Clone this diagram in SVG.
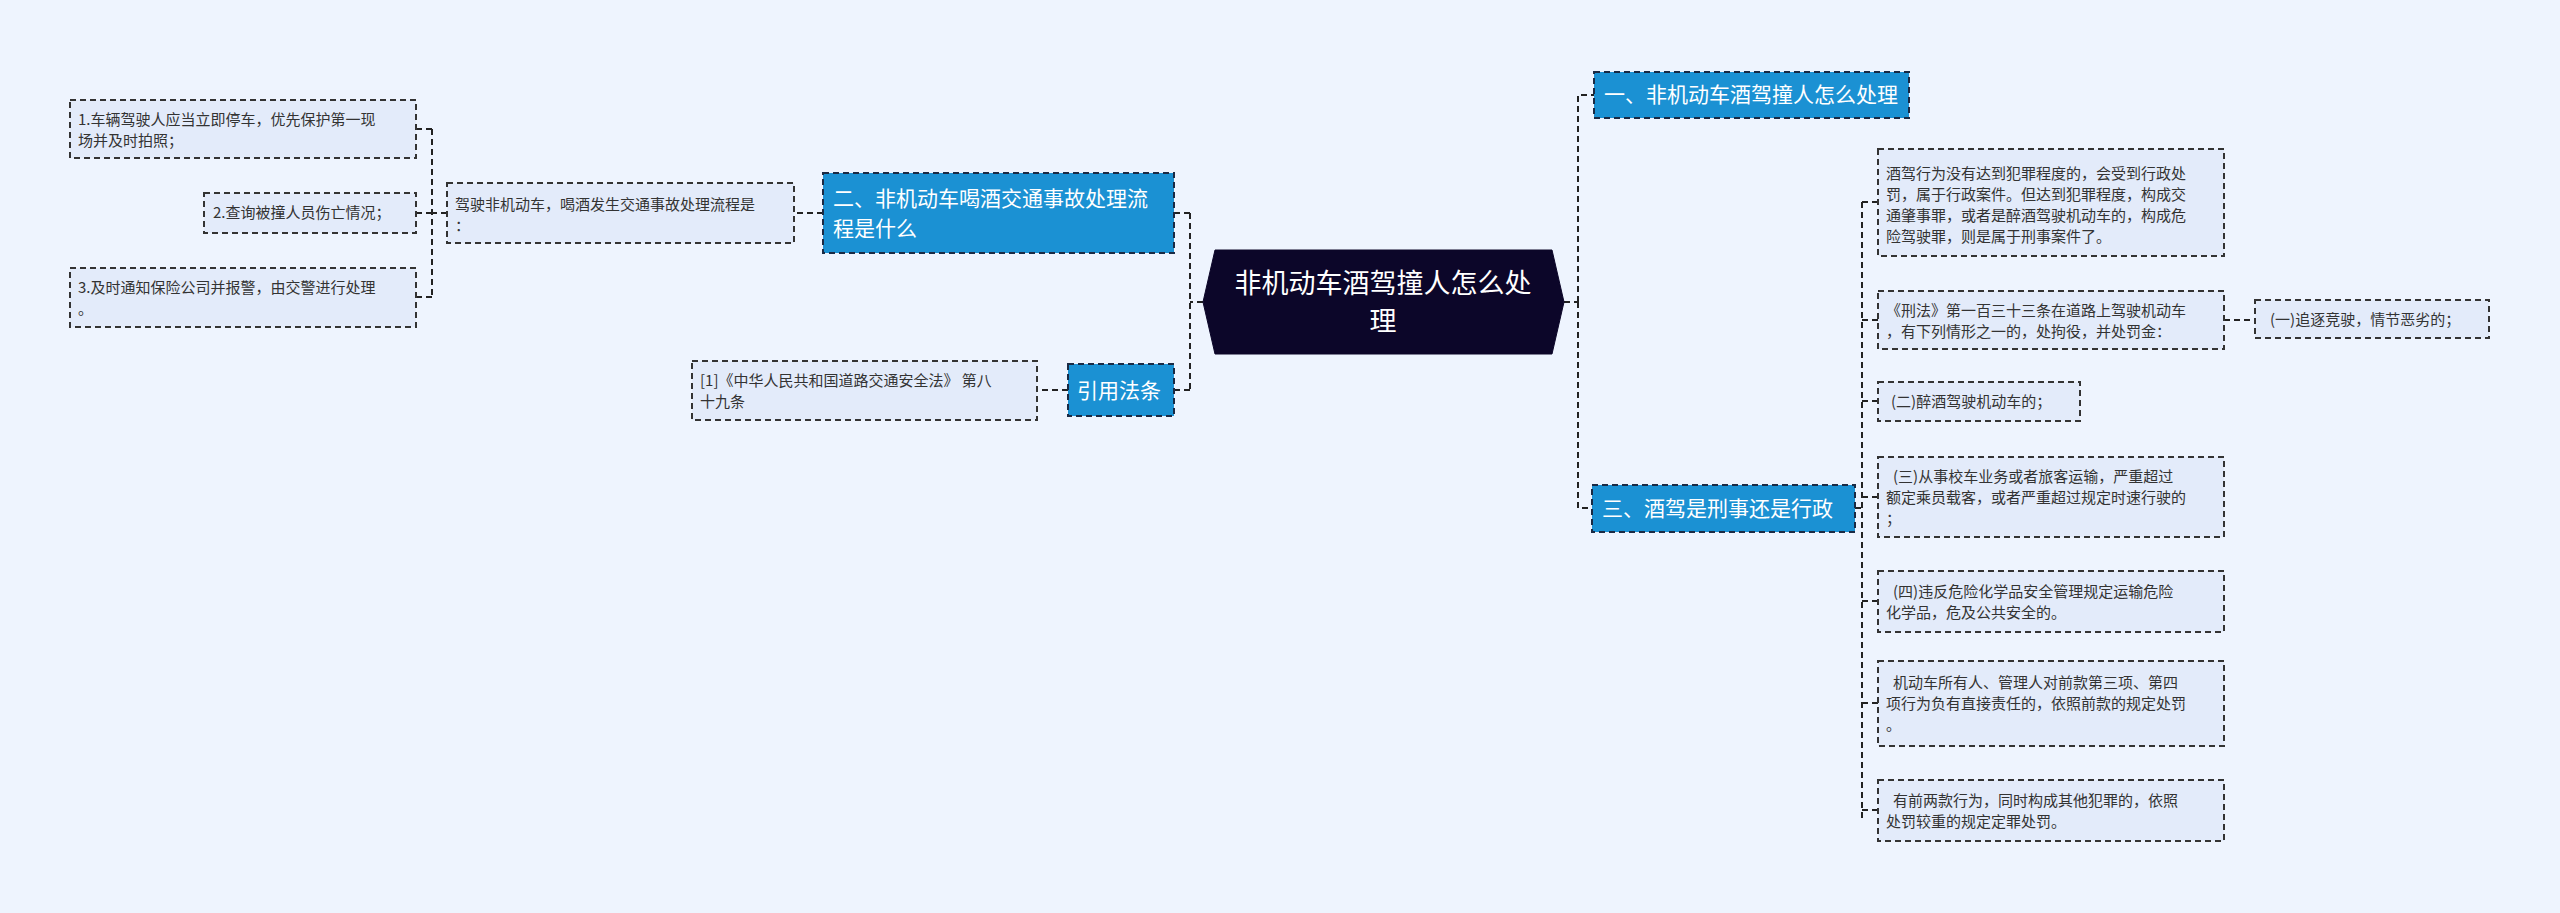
<svg xmlns="http://www.w3.org/2000/svg" width="2560" height="913" viewBox="0 0 2560 913">
<style>
.leaf{fill:#e3ebfa;stroke:#333;stroke-width:2;stroke-dasharray:6,4}
.br{fill:#1b91d3;stroke:#1a2a44;stroke-width:2;stroke-dasharray:6,4}
.lt{font-family:"Noto Sans CJK SC","Liberation Sans",sans-serif;font-size:15px;fill:#333}
.bt{font-family:"Noto Sans CJK SC","Liberation Sans",sans-serif;font-size:21px;fill:#fff}
.rt{font-family:"Noto Sans CJK SC","Liberation Sans",sans-serif;font-size:27px;fill:#fff}
.c{fill:none;stroke:#222;stroke-width:2;stroke-dasharray:6,4}
</style>
<rect width="2560" height="913" fill="#eef4fe"/>
<g id="connectors">
<path class="c" d="M1564,302 H1578 M1578,302 V95 H1594 M1578,302 V508 H1592"/>
<path class="c" d="M1855,508 H1862 M1862,202 V820 M1862,202 H1878 M1862,320 H1878 M1862,401 H1878 M1862,497 H1878 M1862,601 H1878 M1862,703 H1878 M1862,810 H1878"/>
<path class="c" d="M2224,320 H2255"/>
<path class="c" d="M1203,302 H1190 M1190,213 V390 M1190,213 H1174 M1190,390 H1174"/>
<path class="c" d="M823,213 H794 M1068,390 H1037"/>
<path class="c" d="M447,213 H432 M432,129 V297 M432,129 H416 M432,213 H416 M432,297 H416"/>
</g>
<g id="root"><polygon points="1215,250 1552,250 1564,302 1552,354 1215,354 1203,302" fill="#0c0629" stroke="#0c0629"/>
<text class="rt" x="1383" y="293" text-anchor="middle">非机动车酒驾撞人怎么处</text><text class="rt" x="1383" y="331" text-anchor="middle">理</text></g>
<g id="n1"><rect class="br" x="1594" y="72" width="315" height="46"/><text class="bt" x="1604" y="102">一、非机动车酒驾撞人怎么处理</text></g>
<g id="n3"><rect class="br" x="1592" y="485" width="263" height="47"/><text class="bt" x="1602" y="516">三、酒驾是刑事还是行政</text></g>
<g id="n2"><rect class="br" x="823" y="173" width="351" height="80"/><text class="bt" x="833" y="206">二、非机动车喝酒交通事故处理流</text><text class="bt" x="833" y="236">程是什么</text></g>
<g id="n4"><rect class="br" x="1068" y="364" width="106" height="52"/><text class="bt" x="1077" y="398">引用法条</text></g>
<g id="law"><rect class="leaf" x="692" y="361" width="345" height="59"/><text class="lt" x="700" y="386">[1]《中华人民共和国道路交通安全法》 第八</text><text class="lt" x="700" y="407">十九条</text></g>
<g id="drive"><rect class="leaf" x="447" y="183" width="347" height="60"/><text class="lt" x="455" y="210">驾驶非机动车，喝酒发生交通事故处理流程是</text><text class="lt" x="455" y="231">：</text></g>
<g id="s1"><rect class="leaf" x="70" y="100" width="346" height="58"/><text class="lt" x="78" y="125">1.车辆驾驶人应当立即停车，优先保护第一现</text><text class="lt" x="78" y="146">场并及时拍照；</text></g>
<g id="s2"><rect class="leaf" x="204" y="193" width="212" height="40"/><text class="lt" x="213" y="218">2.查询被撞人员伤亡情况；</text></g>
<g id="s3"><rect class="leaf" x="70" y="268" width="346" height="59"/><text class="lt" x="78" y="293">3.及时通知保险公司并报警，由交警进行处理</text><text class="lt" x="78" y="314">。</text></g>
<g id="a"><rect class="leaf" x="1878" y="149" width="346" height="107"/>
<text class="lt" x="1886" y="179">酒驾行为没有达到犯罪程度的，会受到行政处</text><text class="lt" x="1886" y="200">罚，属于行政案件。但达到犯罪程度，构成交</text><text class="lt" x="1886" y="221">通肇事罪，或者是醉酒驾驶机动车的，构成危</text><text class="lt" x="1886" y="242">险驾驶罪，则是属于刑事案件了。</text></g>
<g id="b"><rect class="leaf" x="1878" y="291" width="346" height="58"/><text class="lt" x="1886" y="316">《刑法》第一百三十三条在道路上驾驶机动车</text><text class="lt" x="1886" y="337">，有下列情形之一的，处拘役，并处罚金：</text></g>
<g id="b1"><rect class="leaf" x="2255" y="300" width="234" height="38"/><text class="lt" x="2270" y="325">(一)追逐竞驶，情节恶劣的；</text></g>
<g id="c"><rect class="leaf" x="1878" y="382" width="202" height="39"/><text class="lt" x="1891" y="407">(二)醉酒驾驶机动车的；</text></g>
<g id="d"><rect class="leaf" x="1878" y="457" width="346" height="80"/><text class="lt" x="1893" y="482">(三)从事校车业务或者旅客运输，严重超过</text><text class="lt" x="1886" y="503">额定乘员载客，或者严重超过规定时速行驶的</text><text class="lt" x="1886" y="524">；</text></g>
<g id="e"><rect class="leaf" x="1878" y="571" width="346" height="61"/><text class="lt" x="1893" y="597">(四)违反危险化学品安全管理规定运输危险</text><text class="lt" x="1886" y="618">化学品，危及公共安全的。</text></g>
<g id="f"><rect class="leaf" x="1878" y="661" width="346" height="85"/><text class="lt" x="1893" y="688">机动车所有人、管理人对前款第三项、第四</text><text class="lt" x="1886" y="709">项行为负有直接责任的，依照前款的规定处罚</text><text class="lt" x="1886" y="730">。</text></g>
<g id="g"><rect class="leaf" x="1878" y="780" width="346" height="61"/><text class="lt" x="1893" y="806">有前两款行为，同时构成其他犯罪的，依照</text><text class="lt" x="1886" y="827">处罚较重的规定定罪处罚。</text></g>
</svg>
